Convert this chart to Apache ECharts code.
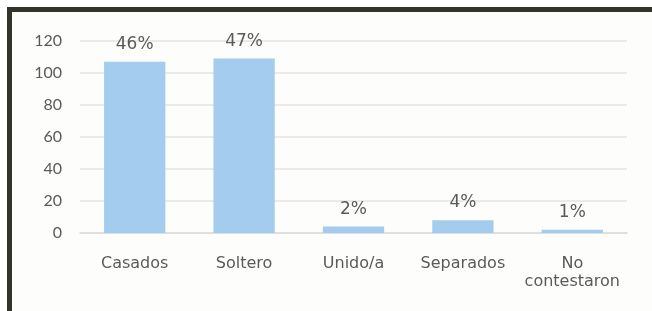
<!DOCTYPE html>
<html><head><meta charset="utf-8">
<style>html,body{margin:0;padding:0;background:#fff}#c{width:652px;height:311px}</style>
<script src="https://cdn.jsdelivr.net/npm/echarts@6/dist/echarts.min.js"></script>
</head><body><div id="c"></div>
<script>
const categories = ['Casados', 'Soltero', 'Unido/a', 'Separados', 'No\ncontestaron'];
const values = [107, 109, 4, 8, 2];
const percentLabels = ['46%', '47%', '2%', '4%', '1%'];
const yTicks = [0, 20, 40, 60, 80, 100, 120];

const chart = echarts.init(document.getElementById('c'));
const font = '"DejaVu Sans", sans-serif';
chart.setOption({
  animation: false,
  graphic: [
    {type: 'rect', shape: {x: 12, y: 12, width: 640, height: 299}, style: {fill: '#fdfdfb'}, z: -10},
    {type: 'polyline', shape: {points: [[9.5, 311], [9.5, 9.5], [652, 9.5]]}, style: {stroke: '#34342b', lineWidth: 5, fill: null}, z: -5}
  ],
  grid: {left: 80, right: 25, top: 41, bottom: 78},
  xAxis: {
    type: 'category', data: categories,
    axisLine: {lineStyle: {color: '#dcdcdc', width: 1.5}},
    axisTick: {show: false},
    axisLabel: {interval: 0, hideOverlap: false, color: '#5a5a5a', fontSize: 16, fontFamily: font, margin: 22, lineHeight: 18}
  },
  yAxis: {
    type: 'value', min: yTicks[0], max: yTicks[yTicks.length - 1], interval: 20,
    axisLine: {show: false}, axisTick: {show: false},
    splitLine: {lineStyle: {color: '#e3e3e3', width: 1.5}},
    axisLabel: {color: '#5a5a5a', fontSize: 16, fontFamily: 'Lato, sans-serif', margin: 18}
  },
  series: [{
    type: 'bar', data: values, barWidth: '56%',
    itemStyle: {color: '#a4ccee'},
    label: {
      show: true, position: 'top', distance: 9,
      color: '#5a5a5a', fontSize: 17, fontFamily: font,
      formatter: p => percentLabels[p.dataIndex]
    }
  }]
});
</script></body></html>
